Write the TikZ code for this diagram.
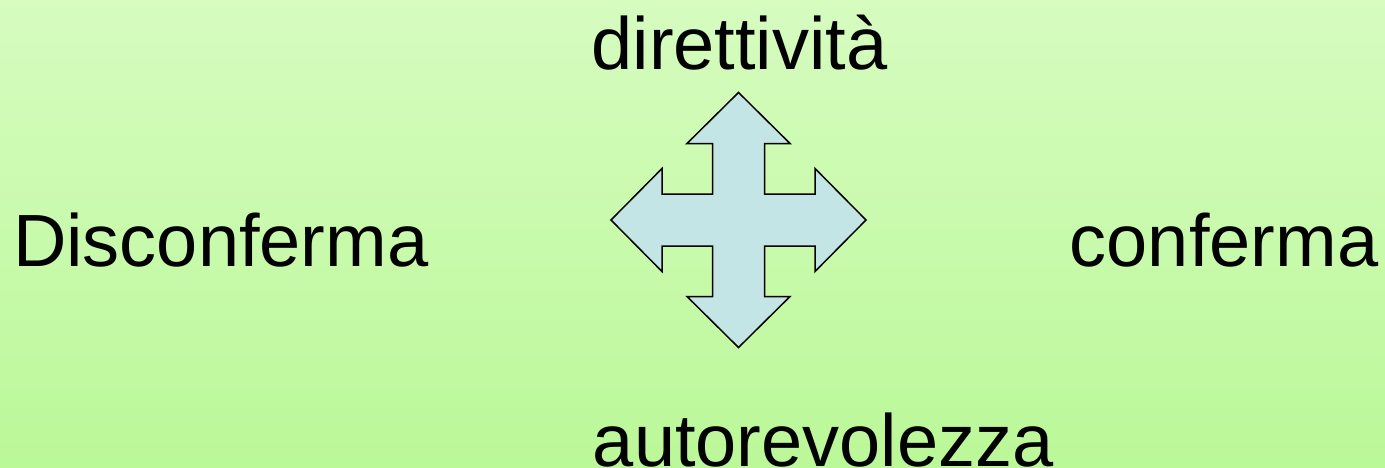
\documentclass[tikz,border=0pt]{standalone}
\usepackage{fontspec}
\setmainfont{Liberation Sans}
\usepackage{xcolor}
\definecolor{bgtop}{RGB}{214,252,192}
\definecolor{bgbot}{RGB}{187,248,152}
\definecolor{crossfill}{RGB}{196,229,230}

\begin{document}
\begin{tikzpicture}[x=1pt, y=1pt,
    word/.style={inner sep=0pt, anchor=base, font=\fontsize{74}{80}\selectfont}]

    \shade[top color=bgtop, bottom color=bgbot] (0,0) rectangle (1385,467);
    \useasboundingbox (0,0) rectangle (1385,467);

    \node[word] (top)   at (739.5, 397)   {direttività};
    \node[word] (left)  at (220.7, 200.3) {Disconferma};
    \node[word] (right) at (1224, 200.3)  {conferma};
    \node[word] (bot)   at (823.3, 1)     {autorevolezza};

    \coordinate (c) at (738.5, 247);

    % four-way arrow
    \begin{scope}[shift={(c)}]
    \draw[fill=crossfill, line width=1.5pt, line join=miter]
        (0,127.5) -- (51.5,76.5) -- (26,76.5) -- (26,26) -- (76.5,26) -- (76.5,51.5)
        -- (127.5,0) -- (76.5,-51.5) -- (76.5,-26) -- (26,-26) -- (26,-76.5) -- (51.5,-76.5)
        -- (0,-127.5) -- (-51.5,-76.5) -- (-26,-76.5) -- (-26,-26) -- (-76.5,-26) -- (-76.5,-51.5)
        -- (-127.5,0) -- (-76.5,51.5) -- (-76.5,26) -- (-26,26) -- (-26,76.5) -- (-51.5,76.5)
        -- cycle;
    \end{scope}

\end{tikzpicture}
\end{document}
